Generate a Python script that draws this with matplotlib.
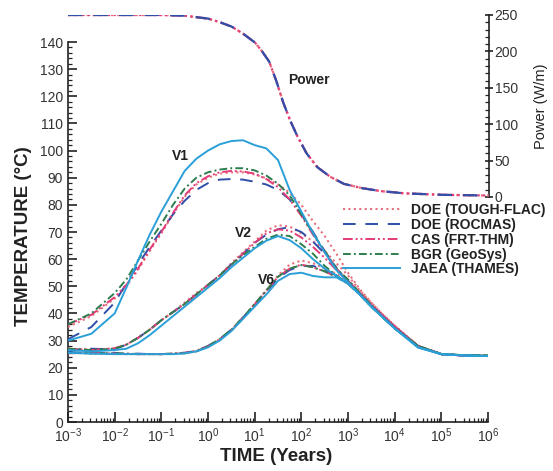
import numpy as np
import matplotlib
matplotlib.use("Agg")
import matplotlib.pyplot as plt
from matplotlib.ticker import MultipleLocator, LogLocator, NullFormatter, FixedLocator

plt.rcParams["font.family"] = ["Liberation Sans", "DejaVu Sans"]
plt.rcParams["mathtext.default"] = "regular"

# ---- data -----------------------------------------------------------------
# time axis, log10(years)
log_time = [-3, -2.5, -2, -1.75, -1.5, -1.25, -1, -0.75, -0.5, -0.25,
            0, 0.25, 0.5, 0.75, 1, 1.25, 1.5, 1.75, 2, 2.25,
            2.5, 2.75, 3, 3.25, 3.5, 3.75, 4, 4.5, 5, 5.5, 6]

# temperature (deg C) at monitoring points V1, V2, V6
tough_v1 = [35, 39, 45.5, 50, 56, 63, 69.5, 76.5, 83, 87.5,
            90, 91.5, 92, 92, 91.2, 89.8, 87.5, 84.5, 80, 74,
            68.5, 62, 55, 49, 44, 39.5, 35.5, 28, 25, 24.5, 24.3]
rocmas_v1 = [30.5, 35, 44, 51, 58, 64.5, 70.5, 76.5, 81.5, 85.5,
             88, 89.3, 89.5, 89.3, 88.5, 87.5, 85.5, 82, 76.5, 70,
             63, 56.5, 52, 47.5, 43, 39, 35, 28, 25, 24.5, 24.3]
cas_v1 = [36, 39.5, 46, 50.5, 56.5, 63.5, 70, 77, 83.5, 88,
          90.5, 92, 92.5, 92.3, 91.5, 89.5, 86.5, 82, 76, 69,
          62.5, 56.5, 52, 47.5, 43, 39, 35, 28, 25, 24.5, 24.3]
bgr_v1 = [36, 40, 47.5, 52.5, 59.5, 66.5, 73, 80, 86, 90,
          92, 93, 93.5, 93.5, 92.7, 90.8, 87.8, 83.5, 76.5, 69.5,
          63, 56.5, 52.5, 47.5, 43, 38.5, 34.5, 28, 25, 24.6, 24.5]
jaea_v1 = [30, 32.5, 40, 49.5, 59.5, 69, 77.5, 85, 92.5, 97,
           100, 102.3, 103.5, 103.8, 102, 100.8, 96.5, 85.5, 77.5, 69.6,
           62.5, 56, 51.5, 47, 42.5, 38.5, 34.5, 27.5, 25, 24.5, 24.3]

tough_v2 = [27, 26.8, 27, 28.5, 31, 34, 37.5, 40.5, 44, 47.5,
            50.5, 54, 58.5, 62.5, 66.5, 70.5, 72.5, 72, 69.5, 66.5,
            63, 58.5, 54, 48.5, 44, 39.5, 35.5, 28, 25, 24.5, 24.3]
rocmas_v2 = [26.5, 27, 26.8, 28.5, 31, 34, 37.5, 40.5, 43.5, 47,
             50.5, 54, 58, 62, 66, 69, 71, 71.8, 70, 66.5,
             62, 57, 52, 47.5, 43, 39, 35, 28, 25, 24.5, 24.3]
cas_v2 = [27, 26.5, 27.2, 28.5, 31, 34, 37.5, 40.5, 43.5, 47,
          50.5, 54, 58, 62, 66, 69.5, 71, 70.5, 68, 64.5,
          60.5, 56, 51.5, 47.5, 43, 39, 35, 28, 25, 24.5, 24.3]
bgr_v2 = [27, 26.5, 27, 28.5, 31, 34, 37.5, 40.5, 43.5, 47,
          50.5, 54, 58, 61.5, 64.5, 67.5, 69, 68.5, 65.5, 62,
          57.5, 54, 51, 47, 42.5, 38.5, 34.5, 28, 25, 24.6, 24.5]
jaea_v2 = [26.5, 26, 26.5, 27, 29, 32, 35.5, 39, 42.5, 46,
           49.5, 53, 57, 60.5, 64, 66.8, 68.5, 67, 64, 60,
           56.5, 54, 51, 47, 42.5, 38.5, 34.5, 27.5, 25, 24.5, 24.3]

tough_v6 = [25.5, 25.3, 25.2, 25.2, 25, 25, 25, 25.2, 25.5, 26.3,
            28, 30.5, 34, 38.5, 43.5, 48.5, 54, 58, 59.5, 58.5,
            56.5, 54.5, 52, 48, 43.5, 39.5, 35.5, 28, 25, 24.5, 24.3]
rocmas_v6 = [25.8, 25.3, 25.5, 25, 25.2, 25, 25, 25.2, 25.5, 26.2,
             28, 30.5, 34, 38.5, 43, 48, 53, 56, 57.5, 57.5,
             56, 54, 51.5, 47.5, 43, 39, 35, 28, 25, 24.5, 24.3]
cas_v6 = [25.3, 25.5, 25.2, 25, 25, 25, 25, 25.2, 25.5, 26,
          27.8, 30.3, 33.8, 38.3, 43.3, 48.3, 53.5, 56.5, 58, 57,
          55.5, 53.5, 51, 47.5, 43, 39, 35, 28, 25, 24.5, 24.3]
bgr_v6 = [25.5, 25.3, 25.3, 25.2, 25, 25, 25, 25.2, 25.3, 26,
          28, 30.5, 34, 38.5, 43.5, 48.5, 53.5, 56.5, 57.8, 57,
          55.5, 53.5, 51, 47, 42.5, 38.5, 34.5, 28, 25, 24.6, 24.5]
jaea_v6 = [25.5, 25.2, 25, 25, 25, 25, 25, 25, 25.3, 26,
           27.5, 30, 33.5, 38, 42.5, 47, 52, 54.5, 55, 53.8,
           53.3, 53.3, 51, 47, 42.5, 38.5, 34.5, 27.5, 25, 24.5, 24.3]

# heat output of the canister (W/m)
power_log_time = [-3, -2, -1, -0.5, 0, 0.25, 0.5, 0.75, 1, 1.15, 1.3, 1.45,
                  1.6, 1.75, 1.9, 2.1, 2.33, 2.6, 2.9, 3.3, 3.7, 4.2, 5, 6]
power = [250, 250, 250, 249, 245, 240, 234, 224, 212, 200, 186, 160,
         130, 105, 84, 60, 41, 28, 18, 12, 8, 5, 3, 2]

model_names = ["DOE (TOUGH-FLAC)", "DOE (ROCMAS)", "CAS (FRT-THM)",
               "BGR (GeoSys)", "JAEA (THAMES)"]
model_series = [(tough_v1, tough_v2, tough_v6),
                (rocmas_v1, rocmas_v2, rocmas_v6),
                (cas_v1, cas_v2, cas_v6),
                (bgr_v1, bgr_v2, bgr_v6),
                (jaea_v1, jaea_v2, jaea_v6)]

# ---- styles -----------------------------------------------------------------
styles = [
    dict(color="#e8707c", lw=1.5, ls=(0, (1, 1.6))),
    dict(color="#2f4fa8", lw=1.4, ls=(0, (6.5, 5))),
    dict(color="#e23c78", lw=1.4, ls=(0, (5, 1.5, 1, 1.5, 1, 1.5))),
    dict(color="#2e7d4f", lw=1.4, ls=(0, (4, 1.6, 1, 1.6))),
    dict(color="#2a9fd8", lw=1.4, ls="-"),
]
ink = "#222222"
label_ink = "#333333"

W, H = 553, 471
fig = plt.figure(figsize=(W / 100, H / 100), dpi=100)
fig.patch.set_facecolor("white")

def fx(px):
    return px / W

def fy(py):
    return 1 - py / H

# temperature axes
ax = fig.add_axes([fx(68), fy(422), fx(488) - fx(68), fy(42) - fy(422)])
t = 10.0 ** np.array(log_time)
handles = []
for name, series, st in zip(model_names, model_series, styles):
    for k, vals in enumerate(series):
        (ln,) = ax.plot(t, vals, color=st["color"], lw=st["lw"], ls=st["ls"],
                        label=name if k == 0 else None, zorder=3)
        if k == 0:
            handles.append(ln)

ax.set_xscale("log")
ax.set_xlim(1e-3, 1e6)
ax.set_ylim(0, 140)
ax.patch.set_alpha(0)
for side in ("top", "right"):
    ax.spines[side].set_visible(False)
for side in ("left", "bottom"):
    ax.spines[side].set_color(ink)
    ax.spines[side].set_linewidth(1.2)

ax.yaxis.set_major_locator(MultipleLocator(10))
ax.yaxis.set_minor_locator(MultipleLocator(2))
ax.xaxis.set_major_locator(LogLocator(base=10, numticks=20))
ax.xaxis.set_minor_locator(LogLocator(base=10, subs=np.arange(2, 10), numticks=200))
ax.xaxis.set_minor_formatter(NullFormatter())
ax.tick_params(axis="both", which="both", direction="in", colors=ink,
               labelcolor=label_ink, labelsize=10)
ax.tick_params(axis="y", which="major", length=6.5, width=1.2, pad=3.5)
ax.tick_params(axis="y", which="minor", length=3, width=0.9)
ax.tick_params(axis="x", which="major", length=7, width=1.2, pad=3)
ax.tick_params(axis="x", which="minor", length=3, width=0.9)

ax.set_xlabel("TIME (Years)", fontsize=13.5, fontweight="bold", color=ink)
ax.xaxis.set_label_coords(0.495, (422 - 448) / 380)
ax.set_ylabel("TEMPERATURE (\u00b0C)", fontsize=13.5, fontweight="bold", color=ink)
ax.yaxis.set_label_coords((32 - 68) / 420, 0.49)

ax.text(10 ** -0.6, 98, "V1", fontsize=10, fontweight="bold", color=ink,
        ha="center", va="center")
ax.text(10 ** 0.75, 69.6, "V2", fontsize=10, fontweight="bold", color=ink,
        ha="center", va="center")
ax.text(10 ** 1.26, 52.3, "V6", fontsize=10, fontweight="bold", color=ink,
        ha="center", va="center")

# power axes, stacked in the upper part with its own scale on the right
axp = fig.add_axes([fx(68), fy(197), fx(489) - fx(68), fy(15) - fy(197)])
axp.patch.set_alpha(0)
tp = 10.0 ** np.array(power_log_time)
for st in (styles[0], styles[2], styles[1]):
    axp.plot(tp, power, color=st["color"], lw=st["lw"] + 0.2, ls=st["ls"], zorder=3)
axp.set_xscale("log")
axp.set_xlim(1e-3, 1e6)
axp.set_ylim(0, 250)
for side in ("top", "left", "bottom"):
    axp.spines[side].set_visible(False)
axp.spines["right"].set_color(ink)
axp.spines["right"].set_linewidth(1.2)
axp.set_xticks([])
axp.xaxis.set_minor_locator(FixedLocator([]))
axp.yaxis.tick_right()
axp.yaxis.set_label_position("right")
axp.yaxis.set_major_locator(MultipleLocator(50))
axp.yaxis.set_minor_locator(MultipleLocator(10))
axp.tick_params(axis="y", which="major", direction="inout", length=6, width=1.2,
                colors=ink, labelcolor=label_ink, labelsize=10, pad=1)
axp.tick_params(axis="y", which="minor", direction="in", length=3, width=0.9,
                colors=ink)
axp.set_ylabel("Power (W/m)", fontsize=10.5, color=ink)
axp.yaxis.set_label_coords((534 - 68) / 421, 0.5)
axp.text(10 ** 2.16, 161, "Power", fontsize=10, fontweight="bold", color=ink,
         ha="center", va="center")

leg = ax.legend(handles=handles, loc="upper left",
                bbox_to_anchor=(fx(343), fy(203)), bbox_transform=fig.transFigure,
                frameon=False, borderpad=0, borderaxespad=0, handlelength=4.1,
                handletextpad=0.8, labelspacing=0.06,
                prop={"weight": "bold", "size": 10})
for txt in leg.get_texts():
    txt.set_color(ink)

fig.savefig("out.png", dpi=100, facecolor="white")
